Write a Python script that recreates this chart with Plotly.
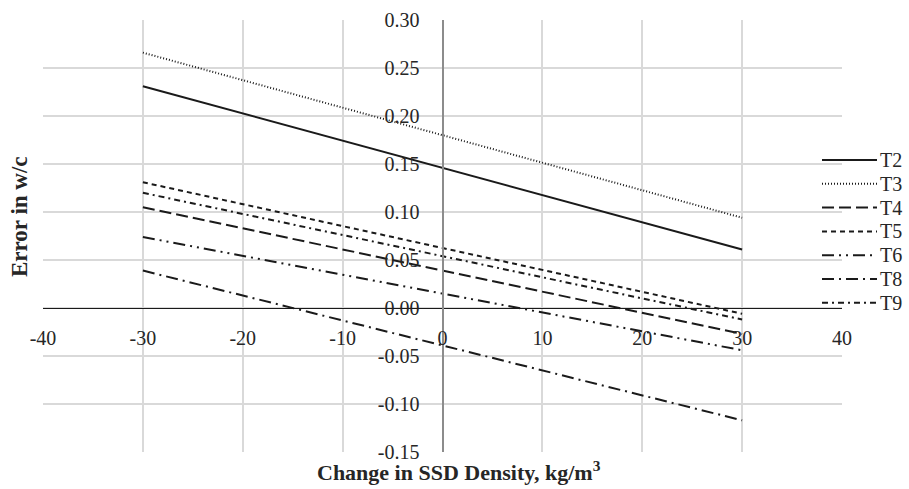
import plotly.graph_objects as go

x_vals = [-30, 0, 30]
series_names = ["T2", "T3", "T4", "T5", "T6", "T8", "T9"]
T2 = [0.231, 0.146, 0.061]
T3 = [0.266, 0.180, 0.094]
T4 = [0.105, 0.039, -0.027]
T5 = [0.131, 0.0625, -0.006]
T6 = [0.074, 0.015, -0.044]
T8 = [0.039, -0.039, -0.117]
T9 = [0.120, 0.054, -0.012]
series_values = [T2, T3, T4, T5, T6, T8, T9]
dashes = ["solid", "1px,2px", "12px,5px", "5px,4px",
          "12px,5px,2px,5px,2px,5px", "12px,5px,2px,5px", "6px,4px,2px,4px"]

x_ticks = [-40, -30, -20, -10, 0, 10, 20, 30, 40]
y_ticks = [-0.15, -0.10, -0.05, 0.00, 0.05, 0.10, 0.15, 0.20, 0.25, 0.30]

FONT = "Times New Roman, Liberation Serif, serif"
TXT = "#262626"
LINE = "#1a1a1a"

W, H = 909, 489
L, R, T, B = 43, 67, 20, 37
PW, PH = W - L - R, H - T - B


def px_x(wx):
    return (wx - L) / PW


def px_y(wy):
    return (H - B - wy) / PH


fig = go.Figure()
for name, vals, d in zip(series_names, series_values, dashes):
    fig.add_trace(go.Scatter(
        x=x_vals, y=vals, mode="lines", name=name,
        line=dict(color=LINE, width=2, dash=d), showlegend=False,
    ))

# manual legend (long line samples like the original)
shapes = []
annotations = []
leg_top, leg_step = 160, 23.8
for i, (name, d) in enumerate(zip(series_names, dashes)):
    yy = px_y(leg_top + i * leg_step)
    shapes.append(dict(type="line", xref="paper", yref="paper",
                       x0=px_x(822), x1=px_x(877), y0=yy, y1=yy,
                       line=dict(color=LINE, width=2, dash=d)))
    annotations.append(dict(text=name, xref="paper", yref="paper",
                            x=px_x(878), y=yy, xanchor="left", yanchor="middle",
                            showarrow=False,
                            font=dict(family=FONT, size=20, color=TXT)))

annotations += [
    dict(text="<b>Change in SSD Density, kg/m<sup>3</sup></b>",
         xref="paper", yref="paper", x=px_x(459), y=px_y(471),
         xanchor="center", yanchor="middle", showarrow=False,
         font=dict(family=FONT, size=22, color=TXT)),
    dict(text="<b>Error in w/c</b>", textangle=-90,
         xref="paper", yref="paper", x=px_x(19), y=px_y(217),
         xanchor="center", yanchor="middle", showarrow=False,
         font=dict(family=FONT, size=23, color=TXT)),
]

fig.update_layout(
    width=W, height=H,
    margin=dict(l=L, r=R, t=T, b=B, autoexpand=False),
    paper_bgcolor="white", plot_bgcolor="white",
    font=dict(family=FONT, size=20, color=TXT),
    showlegend=False,
    xaxis=dict(
        range=[-40, 40], tickvals=x_ticks,
        ticktext=[str(v) for v in x_ticks],
        showgrid=True, gridcolor="#d9d9d9", gridwidth=1.5,
        zeroline=False, showline=True, linecolor=LINE, linewidth=1.2,
        anchor="free", position=1/3, ticks="", ticklabelstandoff=12,
        tickfont=dict(family=FONT, size=20, color=TXT),
    ),
    yaxis=dict(
        range=[-0.15, 0.30], tickvals=y_ticks,
        ticktext=[f"{v:.2f}" for v in y_ticks],
        showgrid=True, gridcolor="#d9d9d9", gridwidth=1.5,
        zeroline=False, showline=True, linecolor="#8c8c8c", linewidth=2,
        anchor="free", position=0.5, ticks="", ticklabelstandoff=18,
        tickfont=dict(family=FONT, size=20, color=TXT),
    ),
    shapes=shapes,
    annotations=annotations,
)

fig.write_html(
    "out.html",
    config={"displayModeBar": False},
    post_script="document.body.style.margin='0';document.body.style.overflow='hidden';",
)
